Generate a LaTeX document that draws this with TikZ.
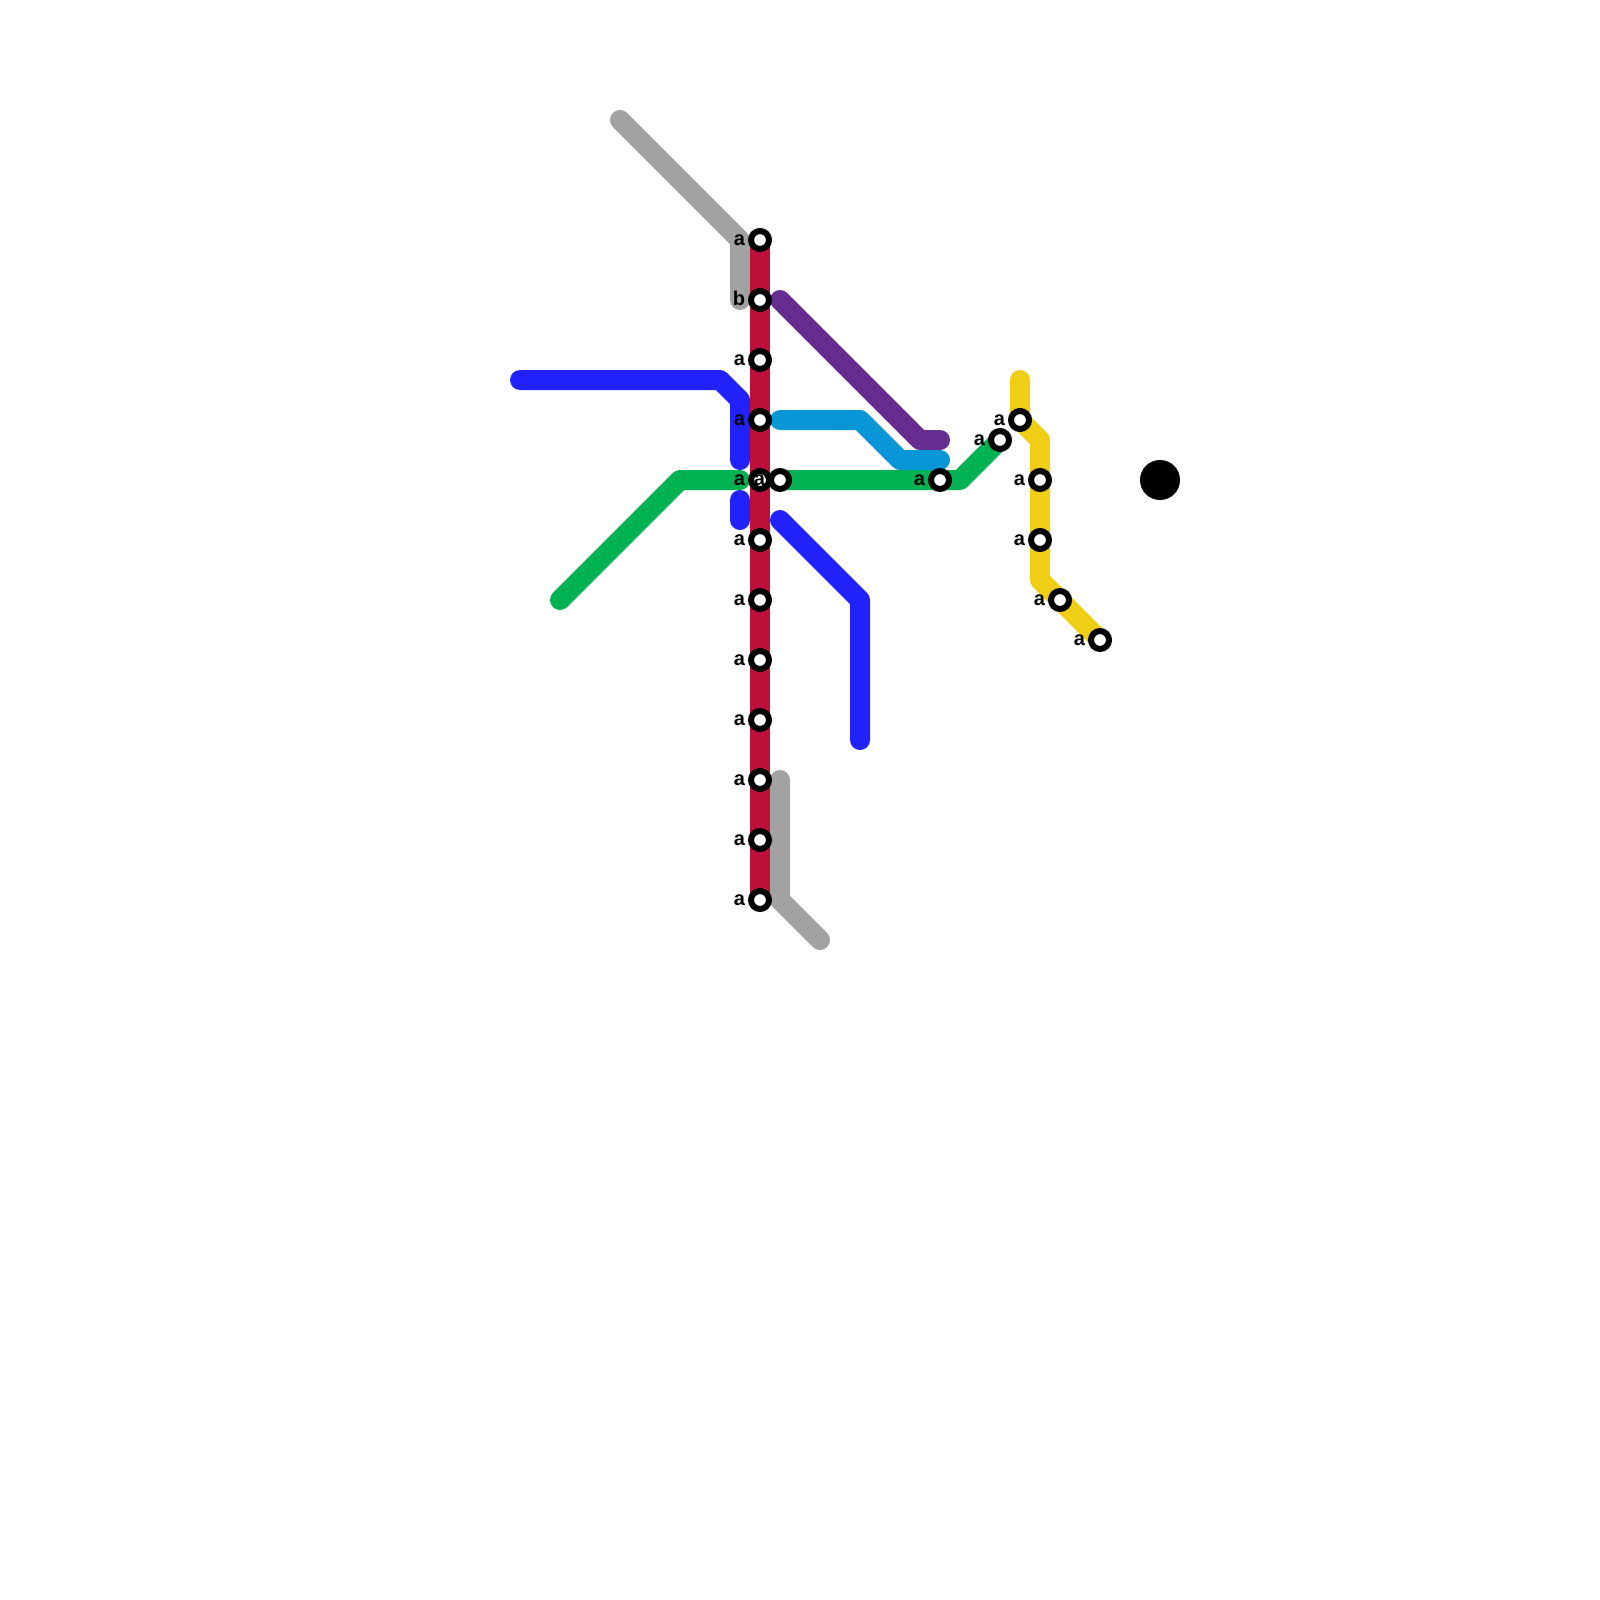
\documentclass[tikz,border=0pt]{standalone}
\usepackage{fontspec}
\setmainfont{Liberation Sans}
\definecolor{lred}{HTML}{BD1038}
\definecolor{lgray}{HTML}{A2A2A2}
\definecolor{lblue}{HTML}{2222FF}
\definecolor{lgreen}{HTML}{00B251}
\definecolor{lcyan}{HTML}{0896D7}
\definecolor{lpurple}{HTML}{662C90}
\definecolor{lyellow}{HTML}{F0CE15}
\tikzset{
  metro/.style={line width=20pt,line cap=round,line join=round},
  stn/.style={circle,draw=black,fill=white,line width=6pt,minimum size=18pt,inner sep=0pt,outer sep=0pt},
  lab/.style={anchor=base east,inner sep=0pt,outer sep=0pt,text=black,font=\fontsize{20}{20}\selectfont\bfseries},
  hub/.style={circle,fill=black,minimum size=40pt,inner sep=0pt,outer sep=0pt}
}
\newcommand{\stlab}[2]{\node[lab] (l#1) at ([xshift=-15pt,yshift=-5pt]#1.center) {#2};}
\begin{document}
\begin{tikzpicture}[x=1pt,y=-1pt]
\useasboundingbox[fill=white] (0,0) rectangle (1600,1600);
% stations (named first so lines can refer to them)
\path
  coordinate (r1) at (760,240) coordinate (r2) at (760,300) coordinate (r3) at (760,360)
  coordinate (r4) at (760,420) coordinate (r5) at (760,480) coordinate (r6) at (760,540)
  coordinate (r7) at (760,600) coordinate (r8) at (760,660) coordinate (r9) at (760,720)
  coordinate (r10) at (760,780) coordinate (r11) at (760,840) coordinate (r12) at (760,900)
  coordinate (g1) at (780,480) coordinate (g2) at (940,480) coordinate (g3) at (1000,440)
  coordinate (y1) at (1020,420) coordinate (y2) at (1040,480) coordinate (y3) at (1040,540)
  coordinate (y4) at (1060,600) coordinate (y5) at (1100,640);
% free line ends and bends
\path
  coordinate (ga) at (620,120) coordinate (gb) at (740,240) coordinate (gc) at (740,300)
  coordinate (gd) at (780,780) coordinate (ge) at (780,900) coordinate (gf) at (820,940)
  coordinate (ba) at (520,380) coordinate (bb) at (720,380) coordinate (bc) at (740,400) coordinate (bd) at (740,460)
  coordinate (be) at (740,500) coordinate (bf) at (740,520)
  coordinate (bg) at (780,520) coordinate (bh) at (860,600) coordinate (bi) at (860,740)
  coordinate (na) at (560,600) coordinate (nb) at (680,480) coordinate (nc) at (740,480) coordinate (nd) at (960,480)
  coordinate (pa) at (780,300) coordinate (pb) at (920,440) coordinate (pc) at (940,440)
  coordinate (ca) at (780,420) coordinate (cb) at (860,420) coordinate (cc) at (900,460) coordinate (cd) at (940,460)
  coordinate (ya) at (1020,380) coordinate (yb) at (1040,440) coordinate (yc) at (1040,580);
% lines
\draw[metro,lgray] (ga) -- (gb) -- (gc);
\draw[metro,lgray] (gd) -- (ge) -- (gf);
\draw[metro,lblue] (ba) -- (bb) -- (bc) -- (bd);
\draw[metro,lblue] (be) -- (bf);
\draw[metro,lblue] (bg) -- (bh) -- (bi);
\draw[metro,lgreen] (na) -- (nb) -- (nc);
\draw[metro,lgreen] (g1) -- (g2) -- (nd) -- (g3);
\draw[metro,lpurple] (pa) -- (pb) -- (pc);
\draw[metro,lcyan] (ca) -- (cb) -- (cc) -- (cd);
\draw[metro,lyellow] (ya) -- (y1) -- (yb) -- (y2) -- (y3) -- (yc) -- (y4) -- (y5);
\draw[line width=20pt,line cap=butt,lred] (r1) -- (r12);
% station markers
\foreach \n in {r1,r2,r3,r4,r5,r6,r7,r8,r9,r10,r11,r12,g1,g2,g3,y1,y2,y3,y4,y5}
  \node[stn] (s\n) at (\n) {};
\node[hub] (hub) at (1160,480) {};
% labels
\stlab{sr1}{a}\stlab{sr2}{b}\stlab{sr3}{a}\stlab{sr4}{a}\stlab{sr5}{a}\stlab{sr6}{a}
\stlab{sr7}{a}\stlab{sr8}{a}\stlab{sr9}{a}\stlab{sr10}{a}\stlab{sr11}{a}\stlab{sr12}{a}
\stlab{sg1}{a}\stlab{sg2}{a}\stlab{sg3}{a}
\stlab{sy1}{a}\stlab{sy2}{a}\stlab{sy3}{a}\stlab{sy4}{a}\stlab{sy5}{a}
\end{tikzpicture}
\end{document}
